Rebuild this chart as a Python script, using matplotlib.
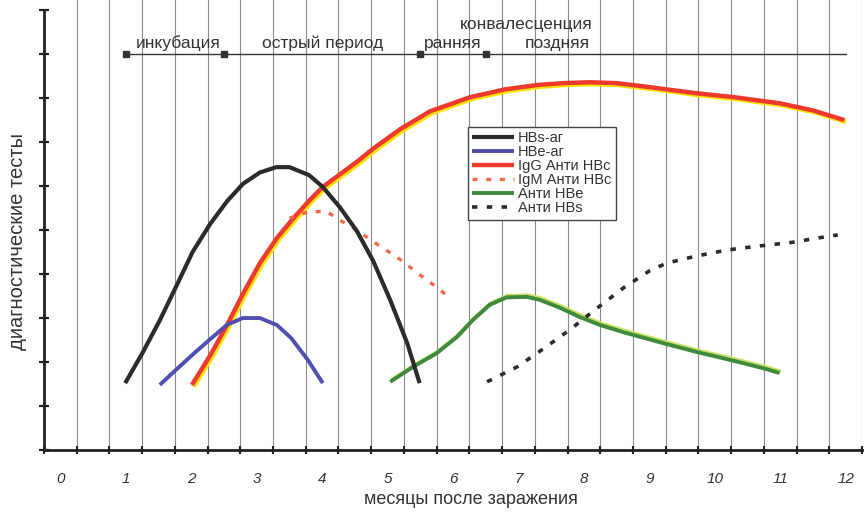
import numpy as np
import matplotlib
matplotlib.use("Agg")
import matplotlib.pyplot as plt
import matplotlib.patheffects as pe
from matplotlib import font_manager as fm

# pick a narrow font if there is one
def pick_font(names):
    for n in names:
        try:
            fm.findfont(fm.FontProperties(family=n), fallback_to_default=False)
            return n
        except Exception:
            pass
    return "DejaVu Sans"

fam = pick_font(["Liberation Sans Narrow", "Liberation Sans", "Noto Sans"])
plt.rcParams["font.family"] = [fam, "DejaVu Sans"]

# data (months after infection, relative level)
hbs_x = [0.99, 1.26, 1.52, 1.78, 2.02, 2.29, 2.55, 2.79, 3.05, 3.3, 3.5, 3.8, 4.01,
         4.27, 4.53, 4.78, 5.04, 5.3, 5.49]
hbs_y = [1.52, 2.22, 2.95, 3.75, 4.5, 5.14, 5.66, 6.05, 6.31, 6.43, 6.43, 6.25, 5.98,
         5.52, 4.98, 4.3, 3.41, 2.43, 1.52]

hbe_x = [1.52, 1.78, 2.03, 2.29, 2.55, 2.79, 3.05, 3.31, 3.53, 3.78, 4.01]
hbe_y = [1.48, 1.84, 2.18, 2.52, 2.85, 3.0, 3.0, 2.84, 2.54, 2.05, 1.52]

igg_x = [2.01, 2.29, 2.55, 2.79, 3.05, 3.31, 3.55, 3.81, 4.01, 4.53, 4.78, 5.2, 5.65,
         6.26, 6.8, 7.3, 7.68, 8.1, 8.5, 9.0, 9.72, 10.3, 11.0, 11.5, 11.98]
igg_y = [1.48, 2.15, 2.85, 3.55, 4.25, 4.82, 5.25, 5.68, 5.98, 6.55, 6.85, 7.3, 7.7,
         8.02, 8.2, 8.3, 8.34, 8.36, 8.34, 8.25, 8.11, 8.02, 7.88, 7.72, 7.5]

igm_x = [3.5, 3.8, 4.07, 4.3, 4.53, 4.7, 4.93, 5.14, 5.34, 5.54, 5.75, 5.96]
igm_y = [5.27, 5.42, 5.42, 5.2, 5.0, 4.82, 4.59, 4.39, 4.16, 3.93, 3.7, 3.45]

ahbe_x = [5.04, 5.39, 5.75, 6.06, 6.3, 6.56, 6.82, 7.13, 7.33, 7.64, 7.94, 8.25, 8.6,
          9.16, 9.72, 10.23, 10.74, 10.99]
ahbe_y = [1.55, 1.89, 2.2, 2.57, 2.95, 3.3, 3.47, 3.48, 3.41, 3.23, 3.02, 2.84, 2.68,
          2.45, 2.23, 2.05, 1.86, 1.75]

ahbs_x = [6.52, 6.98, 7.38, 7.8, 8.18, 8.6, 9.01, 9.27, 9.72, 10.2, 10.69, 11.18,
          11.66, 11.88]
ahbs_y = [1.55, 1.89, 2.3, 2.75, 3.2, 3.68, 4.08, 4.25, 4.41, 4.55, 4.64, 4.72,
          4.84, 4.89]

months = list(range(13))
period_marks = [1.0, 2.5, 5.5, 6.5]
period_line = [1.0, 12.0]

fig = plt.figure(figsize=(8.64, 5.14), dpi=100)
ax = fig.add_axes([44 / 864, 64 / 514, 818 / 864, 450 / 514])
ax.set_xlim(-0.25, 12.25)
ax.set_ylim(0, 10.23)

# half-month grid
grid_x = np.arange(-0.25, 12.3, 0.5)
for gx in grid_x[1:]:
    ax.axvline(gx, color="#8a8a8a", lw=0.8, zorder=0)

ax.spines["top"].set_visible(False)
ax.spines["right"].set_visible(False)
ax.spines["left"].set_linewidth(2.0)
ax.spines["bottom"].set_linewidth(2.0)
ax.spines["left"].set_bounds(0, 10)
ax.spines["left"].set_color("#222222")
ax.spines["bottom"].set_color("#222222")

ax.set_yticks(range(11))
ax.set_yticklabels([])
ax.tick_params(axis="y", direction="inout", length=7, width=1.6, color="#222222")

ax.set_xticks(months)
ax.set_xticklabels([str(m) for m in months], fontsize=11, style="italic", color="#333333")
ax.tick_params(axis="x", which="major", length=0, pad=16)
ax.set_xticks(grid_x, minor=True)
ax.tick_params(axis="x", which="minor", direction="inout", length=6, width=1.5, color="#222222")

# periods line on top
ax.plot(period_line, [9, 9], color="#333333", lw=1.0)
ax.plot(period_marks, [9] * 4, ls="none", marker="s", ms=4, color="#333333")
tkw = dict(fontsize=12.5, color="#333333", ha="center", va="bottom")
ax.text(1.8, 9.07, "инкубация", **tkw)
ax.text(4.0, 9.07, "острый период", **tkw)
ax.text(6.0, 9.07, "ранняя", **tkw)
ax.text(7.6, 9.07, "поздняя", **tkw)
ax.text(7.12, 9.5, "конвалесценция", **tkw)

# curves
yel = [pe.Stroke(linewidth=3.5, foreground="#f5e400", offset=(1.2, -1.2)), pe.Normal()]
grn = [pe.Stroke(linewidth=3.0, foreground="#c8e060", offset=(0.8, 1.0)), pe.Normal()]
dots = (0, (1.5, 2.6))
solid = dict(solid_capstyle="butt", solid_joinstyle="round")
ax.plot(hbs_x, hbs_y, color="#2b2b2b", lw=3.0, label="HBs-аг", zorder=4, **solid)
ax.plot(hbe_x, hbe_y, color="#4f4fb0", lw=2.8, label="HBe-аг", zorder=4, **solid)
ax.plot(igg_x, igg_y, color="#ee3a2c", lw=3.2, label="IgG Анти HBc",
        path_effects=yel, zorder=3, **solid)
ax.plot(igm_x, igm_y, color="#f06a4a", lw=2.4, ls=dots, label="IgM Анти HBc", zorder=3)
ax.plot(ahbe_x, ahbe_y, color="#3e8a3e", lw=2.8, label="Анти HBe",
        path_effects=grn, zorder=3, **solid)
ax.plot(ahbs_x, ahbs_y, color="#2b2b2b", lw=2.6, ls=dots, label="Анти HBs", zorder=3)

leg = ax.legend(loc="upper left", bbox_to_anchor=(0.518, 0.718), borderaxespad=0,
                fontsize=10.5, labelspacing=0.0, handlelength=2.9, handletextpad=0.25,
                borderpad=0.3, fancybox=False, framealpha=1, edgecolor="#444444")
leg.get_frame().set_linewidth(1.0)
for t in leg.get_texts():
    t.set_color("#333333")
for h in leg.get_lines():
    h.set_path_effects([])

fig.text(471 / 864, 1 - 500 / 514, "месяцы после заражения", fontsize=13,
         ha="center", va="center", color="#333333")
fig.text(18 / 864, 1 - 241 / 514, "диагностические тесты", fontsize=14.5, rotation=90,
         ha="center", va="center", color="#333333")

fig.savefig("out.png", dpi=100)
